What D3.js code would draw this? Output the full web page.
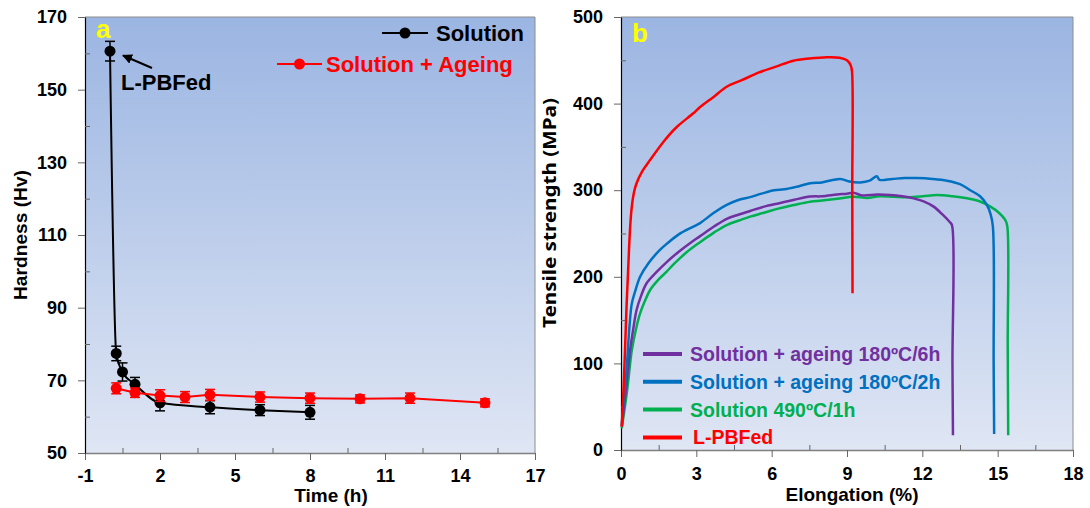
<!DOCTYPE html>
<html>
<head>
<meta charset="utf-8">
<script src="https://cdn.jsdelivr.net/npm/d3@7"></script>
<style>
  body { margin: 0; background: #fff; }
  text { font-family: Arial, "Liberation Sans", sans-serif; font-weight: bold; }
</style>
</head>
<body>
<div id="chart"></div>
<script>
// ---------- panel a : hardness vs time ----------
var solTime = [0, 0.25, 0.5, 1, 2, 4, 6, 8];
var solHard = [160.6, 77.4, 72.3, 68.9, 63.8, 62.6, 61.8, 61.2];
var solErr  = [2.7, 2.0, 2.5, 1.9, 2.2, 1.8, 1.5, 1.9];

var ageTime = [0.25, 1, 2, 3, 4, 6, 8, 10, 12, 15];
var ageHard = [67.8, 66.6, 65.8, 65.4, 66.0, 65.4, 65.1, 64.9, 65.1, 63.8];
var ageErr  = [1.5, 1.3, 1.6, 1.5, 1.5, 1.4, 1.4, 1.1, 1.4, 1.1];

var timeTicks  = [-1, 2, 5, 8, 11, 14, 17];
var timeMinor  = [0.5, 3.5, 6.5, 9.5, 12.5, 15.5];
var hardTicks  = [50, 70, 90, 110, 130, 150, 170];
var hardMinor  = [60, 80, 100, 120, 140, 160];

// ---------- panel b : tensile curves ----------
var redX = [0.03, 0.1, 0.16, 0.22, 0.29, 0.36, 0.43, 0.52, 0.62, 0.85, 1.16, 1.75, 2.22, 2.88, 3.15, 3.7, 4.21, 4.81, 5.5, 6.2, 6.87, 7.5, 8.2, 8.7, 9.0, 9.15, 9.2, 9.21, 9.22];
var redY = [27, 70, 115, 165, 211.7, 255, 281, 298, 308, 322, 335, 358, 373, 388.8, 396, 408, 419.5, 427, 436, 443, 449.5, 452, 453.5, 453, 450, 444, 437, 300, 181];

var blueX = [0.03, 0.12, 0.23, 0.33, 0.43, 0.56, 0.76, 1.1, 1.55, 1.82, 2.3, 2.88, 3.15, 3.7, 4.21, 4.7, 5.14, 5.6, 6.1, 6.5, 7.0, 7.53, 8.0, 8.73, 9.1, 9.53, 9.9, 10.19, 10.3, 10.8, 11.3, 11.78, 12.4, 12.98, 13.5, 13.91, 14.3, 14.57, 14.72, 14.81, 14.84, 14.86];
var blueY = [28.9, 60, 96, 140, 169, 182.8, 200, 216, 231, 238, 249, 258, 262, 274, 283, 289, 292, 296, 300, 301, 304, 308, 309, 313, 310, 309, 311, 316, 312, 313, 314, 314, 313, 311, 307, 300, 293, 283, 272, 258, 100, 18.5];

var purpleX = [0.03, 0.2, 0.36, 0.5, 0.62, 0.8, 1.02, 1.4, 1.82, 2.3, 2.8, 3.15, 3.7, 4.21, 4.7, 5.14, 5.7, 6.3, 6.9, 7.53, 8.0, 8.6, 9.0, 9.26, 9.6, 10.2, 10.72, 11.2, 11.65, 12.05, 12.45, 12.8, 13.1, 13.18, 13.2, 13.22];
var purpleY = [27, 70, 115, 142, 161.7, 178, 192.5, 205, 217, 229, 240, 247, 258, 267, 272, 276, 281, 285, 289, 292.6, 293, 295, 296, 297, 294, 295, 294.5, 293, 290.6, 287, 281, 272, 263, 259.8, 100, 17];

var greenX = [0.03, 0.25, 0.43, 0.6, 0.76, 0.95, 1.16, 1.5, 1.82, 2.08, 2.6, 3.15, 3.7, 4.21, 4.7, 5.14, 5.7, 6.3, 6.9, 7.53, 8.0, 8.6, 9.26, 9.8, 10.3, 10.85, 11.4, 12.0, 12.58, 13.2, 13.78, 14.3, 14.71, 15.05, 15.3, 15.38, 15.4, 15.42];
var greenY = [25, 70, 115, 140, 157.8, 172, 184.8, 197, 206, 214, 228, 240, 251, 259.8, 265, 269.5, 274, 279, 283, 286.7, 288, 290, 292.5, 291, 293, 292.5, 292, 293, 294.5, 293, 290.6, 287, 281, 274, 265.6, 259, 120, 17];

var elongTicks  = [0, 3, 6, 9, 12, 15, 18];
var elongMinor  = [1.5, 4.5, 7.5, 10.5, 13.5, 16.5];
var strTicks    = [0, 100, 200, 300, 400, 500];
var strMinor    = [50, 150, 250, 350, 450];

var legendB = ["Solution + ageing 180ºC/6h", "Solution + ageing 180ºC/2h", "Solution 490ºC/1h", "L-PBFed"];
var legendColors = ["#7030a0", "#0070c0", "#00b050", "#ff0000"];

var svg = d3.select("#chart").append("svg")
    .attr("width", 1090)
    .attr("height", 508);

var defs = svg.append("defs");
var grad = defs.append("linearGradient").attr("id", "bg")
    .attr("x1", 0).attr("y1", 0).attr("x2", 0).attr("y2", 1);
grad.append("stop").attr("offset", "0%").attr("stop-color", "#9bb5e2");
grad.append("stop").attr("offset", "100%").attr("stop-color", "#dfe6f4");

defs.append("marker").attr("id", "arrow")
    .attr("viewBox", "0 0 10 10").attr("refX", 9).attr("refY", 5)
    .attr("markerWidth", 5).attr("markerHeight", 5).attr("orient", "auto-start-reverse")
    .append("path").attr("d", "M0,0 L10,5 L0,10 z").attr("fill", "#000");

// draws background, frame and axes for one panel
function drawFrame(x, y, xt, xm, yt, ym, xPad, yPad) {
  var x0 = x.range()[0], x1 = x.range()[1], y0 = y.range()[0], y1 = y.range()[1];
  svg.append("rect").attr("x", x0).attr("y", y1)
      .attr("width", x1 - x0).attr("height", y0 - y1)
      .attr("fill", "url(#bg)");
  svg.append("path").attr("d", "M" + x0 + "," + y1 + "H" + x1 + "V" + y0)
      .attr("fill", "none").attr("stroke", "#8c8c8c").attr("stroke-width", 1);

  var gx = svg.append("g").attr("transform", "translate(0," + y0 + ")")
      .call(d3.axisBottom(x).tickValues(xt).tickSize(7).tickSizeOuter(0).tickPadding(xPad).tickFormat(String));
  svg.append("g").attr("transform", "translate(0," + y0 + ")")
      .call(d3.axisBottom(x).tickValues(xm).tickSize(-5).tickFormat(""))
      .select(".domain").remove();
  var gy = svg.append("g").attr("transform", "translate(" + x0 + ",0)")
      .call(d3.axisLeft(y).tickValues(yt).tickSize(7).tickSizeOuter(0).tickPadding(yPad).tickFormat(String));
  svg.append("g").attr("transform", "translate(" + x0 + ",0)")
      .call(d3.axisLeft(y).tickValues(ym).tickSize(-5).tickFormat(""))
      .select(".domain").remove();

  svg.selectAll(".tick line").attr("stroke", "#666");
  gx.select(".domain").attr("stroke", "#808080").attr("stroke-width", 1.5);
  gy.select(".domain").attr("stroke", "#000").attr("stroke-width", 1.2);
  [gx, gy].forEach(function(g) {
    g.selectAll("text").attr("font-size", 18).attr("font-family", "Arial, 'Liberation Sans', sans-serif")
        .attr("font-weight", "bold").attr("fill", "#000");
  });
}

// ---------- panel a ----------
var xa = d3.scaleLinear().domain([-1, 17]).range([85, 535]);
var ya = d3.scaleLinear().domain([50, 170]).range([453, 17]);
drawFrame(xa, ya, timeTicks, timeMinor, hardTicks, hardMinor, 9, 11);

function drawSeries(times, vals, errs, color, curve) {
  var pts = times.map(function(t, i) { return { t: t, v: vals[i], e: errs[i] }; });
  var line = d3.line().x(function(d) { return xa(d.t); }).y(function(d) { return ya(d.v); }).curve(curve);
  svg.append("path").datum(pts).attr("d", line)
      .attr("fill", "none").attr("stroke", color).attr("stroke-width", 2);
  var g = svg.append("g").attr("stroke", color).attr("stroke-width", 1.5);
  pts.forEach(function(d) {
    var cx = xa(d.t);
    g.append("line").attr("x1", cx).attr("x2", cx).attr("y1", ya(d.v - d.e)).attr("y2", ya(d.v + d.e));
    g.append("line").attr("x1", cx - 5).attr("x2", cx + 5).attr("y1", ya(d.v - d.e)).attr("y2", ya(d.v - d.e));
    g.append("line").attr("x1", cx - 5).attr("x2", cx + 5).attr("y1", ya(d.v + d.e)).attr("y2", ya(d.v + d.e));
  });
  svg.append("g").selectAll("circle").data(pts).enter().append("circle")
      .attr("cx", function(d) { return xa(d.t); })
      .attr("cy", function(d) { return ya(d.v); })
      .attr("r", 5.5).attr("fill", color);
}
drawSeries(solTime, solHard, solErr, "#000", d3.curveMonotoneX);
drawSeries(ageTime, ageHard, ageErr, "#ff0000", d3.curveLinear);

// legend a
[["Solution", "#000", 33, 382, 428, 436], ["Solution + Ageing", "#ff0000", 64, 277, 322, 326]].forEach(function(r) {
  svg.append("line").attr("x1", r[3]).attr("x2", r[4]).attr("y1", r[2]).attr("y2", r[2])
      .attr("stroke", r[1]).attr("stroke-width", 2);
  svg.append("circle").attr("cx", (r[3] + r[4]) / 2).attr("cy", r[2]).attr("r", 5.5).attr("fill", r[1]);
  svg.append("text").attr("x", r[5]).attr("y", r[2] + 8).attr("font-size", 22).attr("fill", r[1]).text(r[0]);
});

svg.append("text").attr("x", 96).attr("y", 38).attr("font-size", 26).attr("fill", "#ffff00").text("a");
svg.append("text").attr("x", 121).attr("y", 90).attr("font-size", 22).attr("fill", "#000").text("L-PBFed");
svg.append("line").attr("x1", 152).attr("y1", 68).attr("x2", 123).attr("y2", 55.5)
    .attr("stroke", "#000").attr("stroke-width", 2).attr("marker-end", "url(#arrow)");

svg.append("text").attr("transform", "translate(27,235) rotate(-90)")
    .attr("text-anchor", "middle").attr("font-size", 19).attr("textLength", 130)
    .attr("lengthAdjust", "spacingAndGlyphs").text("Hardness (Hv)");
svg.append("text").attr("x", 331).attr("y", 502).attr("text-anchor", "middle")
    .attr("font-size", 19).text("Time (h)");

// ---------- panel b ----------
var xb = d3.scaleLinear().domain([0, 18]).range([621, 1073]);
var yb = d3.scaleLinear().domain([0, 500]).range([450, 17]);
drawFrame(xb, yb, elongTicks, elongMinor, strTicks, strMinor, 10, 11);

var curveLine = d3.line().x(function(d) { return xb(d[0]); }).y(function(d) { return yb(d[1]); })
    .curve(d3.curveCatmullRom.alpha(0.5));
[[greenX, greenY, "#00b050"], [purpleX, purpleY, "#7030a0"], [blueX, blueY, "#0070c0"], [redX, redY, "#ff0000"]]
  .forEach(function(s) {
    svg.append("path").datum(d3.zip(s[0], s[1])).attr("d", curveLine)
        .attr("fill", "none").attr("stroke", s[2]).attr("stroke-width", 2.5).attr("stroke-linejoin", "round");
  });

legendB.forEach(function(name, i) {
  var cy = 354 + i * 27.8;
  svg.append("line").attr("x1", 643).attr("x2", 682).attr("y1", cy).attr("y2", cy)
      .attr("stroke", legendColors[i]).attr("stroke-width", 4);
  svg.append("text").attr("x", i == 3 ? 693 : 690).attr("y", cy + 7).attr("font-size", 19.5)
      .attr("fill", legendColors[i]).text(name);
});

svg.append("text").attr("x", 632).attr("y", 42).attr("font-size", 26).attr("fill", "#ffff00").text("b");

svg.append("text").attr("transform", "translate(556,213) rotate(-90)")
    .attr("text-anchor", "middle").attr("font-size", 18).attr("textLength", 230)
    .attr("lengthAdjust", "spacingAndGlyphs")
    .style("font-family", "'Noto Sans', 'Open Sans', sans-serif").text("Tensile strength (MPa)");
svg.append("text").attr("x", 852).attr("y", 501).attr("text-anchor", "middle")
    .attr("font-size", 19).text("Elongation (%)");
</script>
</body>
</html>
